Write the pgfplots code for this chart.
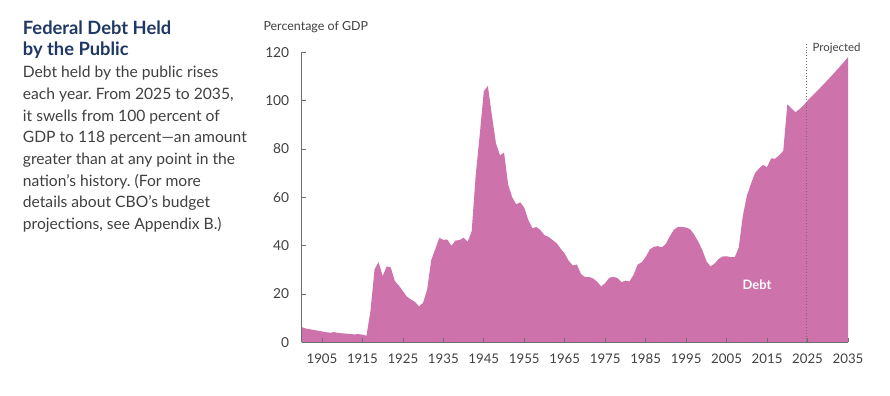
\documentclass[border=0pt]{standalone}
\usepackage{fontspec}
\setmainfont{Lato}
\usepackage{pgfplots}
\pgfplotsset{compat=1.18}
\usepackage{pgfplotstable}
\frenchspacing
\definecolor{debt}{RGB}{205,114,171}
\definecolor{titleblue}{RGB}{31,56,100}
\definecolor{bodytxt}{RGB}{64,64,64}
\definecolor{axgray}{RGB}{110,110,110}
\pgfplotstableread{
year val
1900 6.3
1901 5.7
1902 5.4
1903 5.1
1904 4.8
1905 4.5
1906 4.2
1907 4.0
1908 4.2
1909 3.9
1910 3.7
1911 3.6
1912 3.4
1913 3.3
1914 3.4
1915 3.2
1916 2.7
1917 13.0
1918 30.2
1919 33.2
1920 27.4
1921 31.4
1922 31.0
1923 25.4
1924 23.5
1925 21.2
1926 18.9
1927 17.7
1928 16.7
1929 14.8
1930 16.4
1931 21.8
1932 34.0
1933 38.6
1934 43.2
1935 42.4
1936 42.5
1937 39.9
1938 42.1
1939 42.3
1940 43.3
1941 41.6
1942 45.9
1943 69.2
1944 86.0
1945 103.9
1946 106.1
1947 93.9
1948 82.4
1949 77.4
1950 78.5
1951 65.4
1952 60.1
1953 57.1
1954 57.9
1955 55.7
1956 50.6
1957 47.2
1958 47.7
1959 46.4
1960 44.3
1961 43.6
1962 42.3
1963 41.0
1964 38.7
1965 36.7
1966 33.7
1967 31.8
1968 32.2
1969 28.3
1970 27.0
1971 27.1
1972 26.4
1973 25.1
1974 23.1
1975 24.5
1976 26.7
1977 27.1
1978 26.6
1979 24.9
1980 25.5
1981 25.2
1982 27.9
1983 32.1
1984 33.1
1985 35.3
1986 38.4
1987 39.5
1988 39.8
1989 39.3
1990 40.8
1991 44.0
1992 46.6
1993 47.8
1994 47.7
1995 47.5
1996 46.8
1997 44.5
1998 41.6
1999 38.2
2000 33.6
2001 31.4
2002 32.5
2003 34.5
2004 35.5
2005 35.6
2006 35.3
2007 35.2
2008 39.2
2009 52.2
2010 60.6
2011 65.5
2012 70.0
2013 71.9
2014 73.4
2015 72.5
2016 76.1
2017 76.0
2018 77.4
2019 79.2
2020 98.5
2021 96.8
2022 95.2
2023 96.5
2024 98.0
2025 100.0
2026 101.7
2027 103.4
2028 105.1
2029 106.8
2030 108.6
2031 110.4
2032 112.2
2033 114.1
2034 116.0
2035 118.0
}\debttable
\begin{document}
\begin{tikzpicture}[x=1bp,y=1bp]
\path[use as bounding box] (0,0) rectangle (890,-395);
% left text
\node[anchor=base west, inner sep=0pt, text=titleblue, font=\fontsize{18.4}{20}\selectfont\bfseries] at (22.7,-34.3) {Federal Debt Held};
\node[anchor=base west, inner sep=0pt, text=titleblue, font=\fontsize{18.4}{20}\selectfont\bfseries] at (22.7,-55.0) {by the Public};
\foreach \t [count=\i from 0] in {Debt held by the public rises,{each year. From 2025 to 2035,},it swells from 100 percent of,GDP to 118 percent—an amount,greater than at any point in the,nation’s history. (For more,details about CBO’s budget,{projections, see Appendix B.)}}{
  \node[anchor=base west, inner sep=0pt, text=bodytxt, font=\fontsize{15.7}{18}\selectfont] at (22.7,-77.7-21.66*\i) {\t};
}
\node[anchor=base west, inner sep=0pt, text=bodytxt, font=\fontsize{12.5}{15}\selectfont] at (263.3,-30.7) {Percentage of GDP};
\begin{axis}[
  at={(301.7bp,-342.3bp)}, anchor=south west,
  scale only axis, width=546.3bp, height=290bp,
  xmin=1900, xmax=2035, ymin=0, ymax=120,
  axis x line*=bottom, axis y line*=left,
  axis line style={axgray, line width=0.8pt, -},
  xtick={1905,1915,...,2035}, ytick={0,20,...,120},
  tick align=inside, major tick length=4bp,
  tick style={axgray, line width=0.7pt},
  xticklabel style={text=bodytxt, font=\fontsize{13.3}{15}\selectfont, yshift=-8bp},
  yticklabel style={text=bodytxt, font=\fontsize{13.8}{15}\selectfont, xshift=-9bp},
  /pgf/number format/assume math mode=true,
  x tick label style={/pgf/number format/1000 sep={}},
  axis on top, clip=false,
]
\addplot[fill=debt, draw=none] table[x=year, y=val] {\debttable} \closedcycle;
\draw[axgray, dotted, line width=0.9pt] (axis cs:2024.7,0) -- (axis cs:2024.7,124.3);
\node[anchor=base west, inner sep=0pt, text=bodytxt, font=\fontsize{11.5}{14}\selectfont] at (axis cs:2026.2,120.5) {Projected};
\node[text=white, font=\fontsize{13}{15}\selectfont\bfseries] at (axis cs:2012.5,24) {Debt};
\end{axis}
\end{tikzpicture}
\end{document}
